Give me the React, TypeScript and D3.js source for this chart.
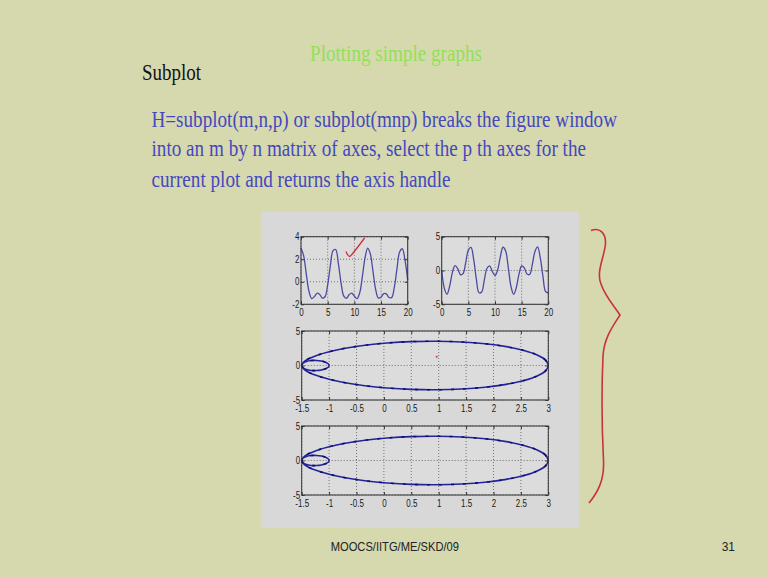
import React, { useEffect, useRef } from "react";
import * as d3 from "d3";

// sample positions for the two wave plots (x axis 0..20)
const waveT = [
  0, 0.5, 1, 1.5, 2, 2.5, 3, 3.5, 4, 4.5, 5, 5.5, 6, 6.5, 7, 7.5, 8, 8.5, 9, 9.5,
  10, 10.5, 11, 11.5, 12, 12.5, 13, 13.5, 14, 14.5, 15, 15.5, 16, 16.5, 17, 17.5,
  18, 18.5, 19, 19.5, 20,
];
// subplot(2,2,1)
const waveA = [
  3.0, 2.3, 0.66, -0.85, -1.49, -1.32, -1.02, -1.12, -1.45, -1.33, -0.27, 1.42,
  2.76, 2.86, 1.64, -0.07, -1.25, -1.48, -1.16, -1.01, -1.27, -1.5, -0.99, 0.45,
  2.11, 2.99, 2.46, 0.9, -0.69, -1.44, -1.37, -1.05, -1.08, -1.4, -1.4, -0.47,
  1.19, 2.67, 2.93, 1.9, 0.15,
];
// subplot(2,2,2)
const waveB = [
  0, -2.64, -3.5, -2.28, -0.31, 0.72, 0.28, -0.61, -0.47, 1.13, 3.01, 3.41, 1.63,
  -1.27, -3.3, -3.18, -1.4, 0.33, 0.68, -0.15, -0.74, 0.09, 2.02, 3.44, 2.88, 0.4,
  -2.37, -3.52, -2.52, -0.54, 0.68, 0.4, -0.53, -0.58, 0.86, 2.82, 3.49, 1.85,
  -0.89, -3.14, -3.32,
];
// closed loop curve (subplot 2,1,2 and the one above it)
const loopX = [
  3, 2.949, 2.798, 2.555, 2.232, 1.846, 1.414, 0.959, 0.5, 0.058, -0.348, -0.705,
  -1, -1.227, -1.384, -1.472, -1.5, -1.476, -1.414, -1.328, -1.232, -1.141, -1.066,
  -1.017, -1, -1.017, -1.066, -1.141, -1.232, -1.328, -1.414, -1.476, -1.5, -1.472,
  -1.384, -1.227, -1, -0.705, -0.348, 0.058, 0.5, 0.959, 1.414, 1.846, 2.232, 2.555,
  2.798, 2.949,
];
const loopY = [
  0, 0.779, 1.518, 2.18, 2.732, 3.149, 3.414, 3.519, 3.464, 3.262, 2.932, 2.501, 2,
  1.465, 0.932, 0.434, 0, -0.345, -0.586, -0.714, -0.732, -0.649, -0.482, -0.257, 0,
  0.257, 0.482, 0.649, 0.732, 0.714, 0.586, 0.345, 0, -0.434, -0.932, -1.465, -2,
  -2.501, -2.932, -3.262, -3.464, -3.519, -3.414, -3.149, -2.732, -2.18, -1.518,
  -0.779,
];

const waveTicks = [0, 5, 10, 15, 20];
const waveATicksY = [-2, 0, 2, 4];
const waveBTicksY = [-5, 0, 5];
const loopTicksX = [-1.5, -1, -0.5, 0, 0.5, 1, 1.5, 2, 2.5, 3];
const loopTicksY = [-5, 0, 5];

const bodyLines = [
  "H=subplot(m,n,p) or subplot(mnp) breaks the figure window",
  "into an m by n matrix of axes, select the p th axes for the",
  "current plot and returns the axis handle",
];

const W = 767;
const H = 578;

type Box = { x0: number; x1: number; y0: number; y1: number };

function panel(
  root: any,
  box: Box,
  xd: number[],
  yd: number[],
  xt: number[],
  yt: number[]
) {
  const x = d3.scaleLinear().domain(xd).range([box.x0, box.x1]);
  const y = d3.scaleLinear().domain(yd).range([box.y1, box.y0]);
  const g = root.append("g");

  g.append("rect")
    .attr("x", box.x0)
    .attr("y", box.y0)
    .attr("width", box.x1 - box.x0)
    .attr("height", box.y1 - box.y0)
    .attr("fill", "#dcdcdc");

  // dotted grid
  g.selectAll(".vg")
    .data(xt)
    .enter()
    .append("line")
    .attr("x1", (d) => x(d))
    .attr("x2", (d) => x(d))
    .attr("y1", box.y0)
    .attr("y2", box.y1)
    .attr("stroke", "#555")
    .attr("stroke-width", 0.8)
    .attr("stroke-dasharray", "1,2");
  g.selectAll(".hg")
    .data(yt)
    .enter()
    .append("line")
    .attr("x1", box.x0)
    .attr("x2", box.x1)
    .attr("y1", (d) => y(d))
    .attr("y2", (d) => y(d))
    .attr("stroke", "#555")
    .attr("stroke-width", 0.8)
    .attr("stroke-dasharray", "1,2");

  return { x, y, g };
}

function frame(g: any, box: Box, x: any, y: any, xt: number[], yt: number[], pad: number) {
  const fmt = (d: any) => String(d);
  const style = (sel: any) => {
    sel.select(".domain").remove();
    sel.selectAll("line").attr("stroke", "#333");
    sel
      .selectAll("text")
      .attr("fill", "#1a1a1a")
      .style("font-family", "'Liberation Sans', Arial, sans-serif")
      .style("font-size", "10px")
      .attr("transform", "scale(0.8,1)");
  };
  g.append("g")
    .attr("transform", `translate(0,${box.y1})`)
    .call(d3.axisBottom(x).tickValues(xt).tickSizeInner(-3).tickSizeOuter(0).tickPadding(pad).tickFormat(fmt))
    .call(style);
  g.append("g")
    .attr("transform", `translate(0,${box.y0})`)
    .call(d3.axisTop(x).tickValues(xt).tickSizeInner(-3).tickSizeOuter(0).tickFormat(() => ""))
    .call(style);
  g.append("g")
    .attr("transform", `translate(${box.x0},0)`)
    .call(d3.axisLeft(y).tickValues(yt).tickSizeInner(-3).tickSizeOuter(0).tickPadding(2).tickFormat(fmt))
    .call(style);
  g.append("g")
    .attr("transform", `translate(${box.x1},0)`)
    .call(d3.axisRight(y).tickValues(yt).tickSizeInner(-3).tickSizeOuter(0).tickFormat(() => ""))
    .call(style);
  g.append("rect")
    .attr("x", box.x0)
    .attr("y", box.y0)
    .attr("width", box.x1 - box.x0)
    .attr("height", box.y1 - box.y0)
    .attr("fill", "none")
    .attr("stroke", "#333")
    .attr("stroke-width", 1);
}

const App = () => {
  const svgRef = useRef<SVGSVGElement>(null);

  useEffect(() => {
    document.body.style.margin = "0";
    const svg = d3.select(svgRef.current);
    svg.selectAll("*").remove();

    svg.append("rect").attr("width", W).attr("height", H).attr("fill", "#d6d9ae");

    const serif = "'Liberation Serif', 'Times New Roman', serif";
    const txt = (s: string, x: number, yb: number, len: number, size: number, color: string, font = serif) =>
      svg
        .append("text")
        .attr("x", x)
        .attr("y", yb)
        .attr("textLength", len)
        .attr("lengthAdjust", "spacingAndGlyphs")
        .attr("fill", color)
        .style("font-family", font)
        .style("font-size", `${size}px`)
        .text(s);

    txt("Plotting simple graphs", 310, 60.5, 172, 23, "#92e05a");
    txt("Subplot", 142, 80, 59, 24, "#111");
    const lineLens = [465.5, 434.5, 299];
    const lineBase = [126.5, 156.3, 186.5];
    bodyLines.forEach((s, i) => txt(s, 151.5, lineBase[i], lineLens[i], 23.5, "#4448bf"));

    const sans = "'Liberation Sans', Arial, sans-serif";
    txt("MOOCS/IITG/ME/SKD/09", 330.7, 550.5, 128.3, 13, "#222", sans);
    txt("31", 721.7, 550.5, 13.3, 13, "#222", sans);

    // figure window
    svg.append("rect").attr("x", 261).attr("y", 212).attr("width", 318).attr("height", 316).attr("fill", "#d8d8d8");

    const waveLine = (x: any, y: any, vals: number[]) =>
      d3
        .line<number>()
        .x((_, i) => x(waveT[i]))
        .y((d) => y(d))
        .curve(d3.curveCatmullRom)(vals);

    // subplot 1
    const b1 = { x0: 301, x1: 407.7, y0: 236.7, y1: 304.3 };
    const p1 = panel(svg, b1, [0, 20], [-2, 4], waveTicks, waveATicksY);
    p1.g.append("path").attr("d", waveLine(p1.x, p1.y, waveA)).attr("fill", "none").attr("stroke", "#4a4aa2").attr("stroke-width", 1.3);
    frame(p1.g, b1, p1.x, p1.y, waveTicks, waveATicksY, 4.5);

    // subplot 2
    const b2 = { x0: 441.7, x1: 548.3, y0: 236.7, y1: 304.3 };
    const p2 = panel(svg, b2, [0, 20], [-5, 5], waveTicks, waveBTicksY);
    p2.g.append("path").attr("d", waveLine(p2.x, p2.y, waveB)).attr("fill", "none").attr("stroke", "#4a4aa2").attr("stroke-width", 1.3);
    frame(p2.g, b2, p2.x, p2.y, waveTicks, waveBTicksY, 4.5);

    // two loop plots
    const loopBoxes = [
      { x0: 301.7, x1: 548.3, y0: 331, y1: 400 },
      { x0: 301.7, x1: 548.3, y0: 426, y1: 495 },
    ];
    loopBoxes.forEach((b) => {
      const p = panel(svg, b, [-1.5, 3], [-5, 5], loopTicksX, loopTicksY);
      const d = d3
        .line<number>()
        .x((v) => p.x(v))
        .y((_, i) => p.y(loopY[i]))
        .curve(d3.curveCatmullRomClosed)(loopX);
      p.g.append("path").attr("d", d).attr("fill", "none").attr("stroke", "#24249a").attr("stroke-width", 1.6);
      p.g.append("path").attr("d", d).attr("fill", "none").attr("stroke", "#101070").attr("stroke-width", 1.6).attr("stroke-dasharray", "3,9");
      frame(p.g, b, p.x, p.y, loopTicksX, loopTicksY, 4.5);
    });

    // hand-drawn red annotations
    svg.append("circle").attr("cx", 436.7).attr("cy", 356.7).attr("r", 1).attr("fill", "#d03030");
    svg
      .append("path")
      .attr("d", "M346,251.5 Q348,256.5 349.8,256.5 Q352,255 364.6,238")
      .attr("fill", "none")
      .attr("stroke", "#d42a3a")
      .attr("stroke-width", 1.3);
    svg
      .append("path")
      .attr(
        "d",
        "M591,230.5 C600,227 606,233 605.5,244 C604,258 596,272 601,284 C605,296 614,306 620,315 C613,326 604,338 603,356 C601.5,390 602,430 603.5,460 C604.5,480 598,492 589,503"
      )
      .attr("fill", "none")
      .attr("stroke", "#c8323a")
      .attr("stroke-width", 1.6);
  }, []);

  return <svg ref={svgRef} width={W} height={H} style={{ display: "block" }}></svg>;
};

export default App;
